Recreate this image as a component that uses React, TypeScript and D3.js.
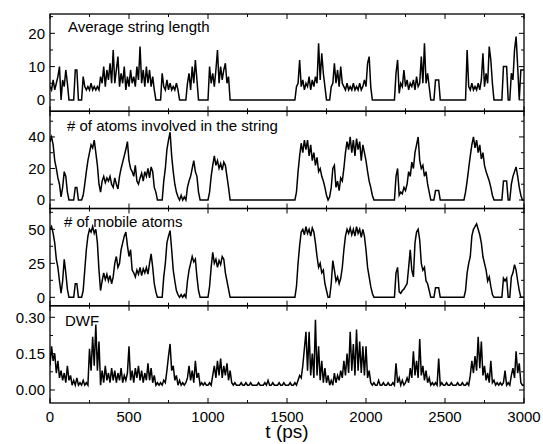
import React from 'react';
import * as d3 from 'd3';

// sampling times (ps)
const tStep = 10;
const times = d3.range(0, 3000 + tStep, tStep);

const xMajorTicks = [0, 500, 1000, 1500, 2000, 2500, 3000];
const xMinorTicks = [250, 750, 1250, 1750, 2250, 2750];

// Average string length (one row = 100 ps)
const avgStringLength = [
  4, 3, 6, 3, 5, 7, 10, 0, 6, 4,
  9, 5, 0, 0, 0, 0, 9, 9, 0, 0,
  0, 7, 4, 3, 4, 3, 5, 3, 4, 3,
  4, 3, 7, 5, 10, 4, 9, 6, 11, 5,
  15, 5, 9, 13, 4, 8, 5, 10, 3, 7,
  4, 9, 5, 7, 4, 10, 6, 16, 5, 9,
  4, 10, 5, 9, 4, 7, 3, 0, 0, 0,
  0, 8, 4, 3, 6, 3, 5, 3, 4, 3,
  5, 3, 0, 0, 0, 0, 0, 5, 8, 3,
  10, 5, 12, 6, 0, 0, 0, 0, 0, 0,
  0, 10, 5, 8, 4, 9, 15, 5, 10, 6,
  9, 11, 5, 7, 0, 0, 0, 0, 0, 0,
  0, 0, 0, 0, 0, 0, 0, 0, 0, 0,
  0, 0, 0, 0, 0, 0, 0, 0, 0, 0,
  0, 0, 0, 0, 0, 0, 0, 0, 0, 0,
  0, 0, 0, 0, 0, 0, 4, 5, 12, 4,
  6, 3, 5, 4, 7, 3, 6, 4, 7, 5,
  17, 6, 14, 8, 4, 0, 0, 0, 4, 5,
  11, 5, 9, 4, 10, 5, 4, 3, 5, 3,
  4, 3, 5, 3, 4, 3, 5, 3, 4, 6,
  4, 11, 13, 4, 0, 0, 0, 0, 0, 0,
  0, 0, 0, 0, 0, 0, 0, 0, 0, 8,
  12, 2, 5, 4, 9, 4, 6, 3, 5, 4,
  6, 3, 7, 4, 5, 13, 5, 17, 5, 8,
  4, 0, 0, 0, 6, 6, 6, 0, 0, 0,
  0, 0, 0, 0, 0, 0, 0, 0, 0, 0,
  0, 0, 0, 0, 15, 4, 3, 5, 3, 4,
  3, 5, 3, 6, 14, 4, 8, 5, 16, 12,
  5, 0, 0, 0, 0, 0, 0, 10, 10, 10,
  0, 0, 8, 6, 15, 19, 10, 0, 9, 9,
  9,
];

// # of atoms involved in the string
const atomsInString = [
  37, 40, 35, 25, 20, 14, 10, 2, 8, 18,
  15, 5, 0, 0, 0, 0, 8, 8, 0, 0,
  0, 3, 10, 18, 25, 30, 35, 33, 38, 30,
  22, 10, 5, 12, 15, 11, 14, 12, 15, 10,
  8, 14, 10, 7, 15, 20, 24, 28, 32, 37,
  25, 20, 18, 15, 22, 12, 10, 14, 17, 12,
  18, 15, 20, 14, 21, 18, 8, 5, 0, 0,
  0, 0, 12, 20, 32, 38, 43, 28, 18, 10,
  5, 2, 0, 3, 0, 2, 0, 8, 12, 15,
  20, 25, 18, 15, 5, 0, 0, 0, 0, 0,
  0, 5, 15, 22, 28, 22, 25, 20, 23, 19,
  24, 22, 15, 8, 0, 0, 0, 0, 0, 0,
  0, 0, 0, 0, 0, 0, 0, 0, 0, 0,
  0, 0, 0, 0, 0, 0, 0, 0, 0, 0,
  0, 0, 0, 0, 0, 0, 0, 0, 0, 0,
  0, 0, 0, 0, 0, 0, 5, 18, 28, 36,
  30, 38, 32, 38, 28, 35, 25, 30, 22, 27,
  18, 20, 15, 12, 8, 3, 0, 2, 8, 20,
  22, 8, 12, 6, 14, 12, 20, 30, 37, 32,
  40, 30, 38, 28, 39, 32, 37, 25, 35, 30,
  25, 18, 12, 8, 3, 0, 0, 0, 0, 0,
  0, 0, 0, 0, 0, 0, 0, 0, 0, 15,
  20, 3, 5, 4, 8, 6, 10, 18, 15, 24,
  20, 30, 35, 40, 25, 20, 22, 15, 18, 10,
  5, 0, 0, 0, 6, 6, 6, 0, 0, 0,
  0, 0, 0, 0, 0, 0, 0, 0, 0, 0,
  0, 0, 0, 5, 12, 20, 28, 35, 40, 33,
  38, 30, 35, 26, 30, 22, 18, 15, 12, 8,
  3, 0, 0, 0, 0, 0, 0, 12, 12, 12,
  0, 0, 10, 15, 18, 21, 15, 8, 3, 0,
  0,
];

// # of mobile atoms
const mobileAtoms = [
  50, 52, 47, 40, 28, 22, 12, 3, 12, 28,
  18, 6, 0, 0, 0, 0, 10, 10, 0, 0,
  0, 5, 20, 35, 45, 50, 48, 52, 47, 50,
  40, 20, 5, 12, 18, 13, 17, 12, 16, 10,
  15, 25, 30, 22, 25, 35, 40, 45, 48, 38,
  30, 35, 20, 18, 15, 20, 17, 22, 16, 21,
  18, 22, 17, 25, 32, 22, 10, 4, 0, 0,
  0, 0, 15, 25, 40, 45, 49, 35, 20, 12,
  5, 2, 0, 2, 0, 2, 0, 12, 20, 25,
  30, 26, 28, 15, 5, 0, 0, 0, 0, 0,
  0, 8, 22, 33, 25, 28, 22, 27, 24, 30,
  28, 18, 12, 6, 0, 0, 0, 0, 0, 0,
  0, 0, 0, 0, 0, 0, 0, 0, 0, 0,
  0, 0, 0, 0, 0, 0, 0, 0, 0, 0,
  0, 0, 0, 0, 0, 0, 0, 0, 0, 0,
  0, 0, 0, 0, 0, 0, 8, 25, 38, 48,
  50, 46, 52, 47, 50, 45, 51, 48, 40, 30,
  22, 25, 18, 20, 10, 5, 0, 0, 10, 27,
  20, 12, 15, 10, 14, 22, 35, 45, 50, 47,
  51, 46, 50, 45, 52, 47, 50, 44, 50, 45,
  35, 22, 15, 8, 3, 0, 0, 0, 0, 0,
  0, 0, 0, 0, 0, 0, 0, 0, 0, 18,
  22, 4, 3, 5, 6, 8, 10, 22, 35, 20,
  15, 40, 48, 50, 42, 25, 20, 22, 12, 10,
  5, 0, 0, 0, 7, 7, 7, 0, 0, 0,
  0, 0, 0, 0, 0, 0, 0, 0, 0, 0,
  0, 0, 0, 5, 18, 25, 30, 45, 50, 52,
  54, 50, 46, 40, 30, 25, 20, 12, 15, 8,
  2, 0, 0, 0, 0, 0, 0, 14, 12, 14,
  0, 0, 15, 18, 24, 20, 12, 5, 0, 0,
  0,
];

// DWF
const dwf = [
  0.10, 0.18, 0.12, 0.15, 0.07, 0.12, 0.05, 0.08, 0.04, 0.07,
  0.03, 0.10, 0.04, 0.06, 0.02, 0.04, 0.02, 0.05, 0.02, 0.03,
  0.02, 0.04, 0.02, 0.03, 0.02, 0.17, 0.08, 0.22, 0.10, 0.27,
  0.08, 0.20, 0.02, 0.08, 0.03, 0.10, 0.04, 0.07, 0.03, 0.09,
  0.04, 0.08, 0.03, 0.07, 0.04, 0.09, 0.03, 0.06, 0.04, 0.07,
  0.18, 0.04, 0.08, 0.03, 0.09, 0.05, 0.10, 0.04, 0.08, 0.03,
  0.07, 0.04, 0.11, 0.04, 0.09, 0.03, 0.06, 0.02, 0.03, 0.02,
  0.03, 0.02, 0.04, 0.03, 0.08, 0.14, 0.19, 0.08, 0.10, 0.04,
  0.06, 0.02, 0.04, 0.02, 0.03, 0.02, 0.03, 0.05, 0.10, 0.04,
  0.08, 0.03, 0.12, 0.05, 0.07, 0.02, 0.03, 0.02, 0.03, 0.02,
  0.02, 0.03, 0.02, 0.06, 0.10, 0.05, 0.12, 0.06, 0.13, 0.05,
  0.10, 0.06, 0.11, 0.04, 0.08, 0.03, 0.02, 0.03, 0.02, 0.02,
  0.02, 0.03, 0.02, 0.02, 0.03, 0.02, 0.02, 0.03, 0.02, 0.02,
  0.02, 0.02, 0.03, 0.02, 0.02, 0.02, 0.03, 0.02, 0.04, 0.02,
  0.02, 0.03, 0.02, 0.02, 0.02, 0.03, 0.02, 0.02, 0.03, 0.02,
  0.02, 0.02, 0.03, 0.02, 0.02, 0.03, 0.02, 0.04, 0.06, 0.05,
  0.10, 0.17, 0.24, 0.08, 0.24, 0.06, 0.15, 0.05, 0.29, 0.06,
  0.18, 0.04, 0.12, 0.03, 0.09, 0.03, 0.06, 0.02, 0.04, 0.02,
  0.07, 0.03, 0.06, 0.04, 0.08, 0.05, 0.12, 0.06, 0.15, 0.07,
  0.24, 0.08, 0.19, 0.06, 0.25, 0.08, 0.20, 0.07, 0.18, 0.06,
  0.18, 0.05, 0.08, 0.03, 0.02, 0.03, 0.02, 0.02, 0.04, 0.02,
  0.02, 0.03, 0.02, 0.02, 0.03, 0.02, 0.02, 0.03, 0.02, 0.11,
  0.03, 0.05, 0.02, 0.04, 0.02, 0.03, 0.05, 0.03, 0.09, 0.05,
  0.16, 0.06, 0.12, 0.05, 0.21, 0.06, 0.10, 0.04, 0.08, 0.03,
  0.05, 0.02, 0.03, 0.02, 0.03, 0.02, 0.13, 0.02, 0.03, 0.02,
  0.02, 0.03, 0.02, 0.02, 0.03, 0.02, 0.02, 0.02, 0.03, 0.02,
  0.02, 0.03, 0.02, 0.02, 0.03, 0.02, 0.06, 0.12, 0.07, 0.14,
  0.08, 0.22, 0.09, 0.20, 0.06, 0.10, 0.04, 0.07, 0.03, 0.12,
  0.03, 0.04, 0.02, 0.03, 0.02, 0.03, 0.02, 0.03, 0.08, 0.02,
  0.03, 0.02, 0.06, 0.09, 0.05, 0.16, 0.07, 0.11, 0.03, 0.02,
  0.02,
];

const panelTitles = [
  'Average string length',
  '# of atoms involved in the string',
  '# of mobile atoms',
  'DWF',
];
const panelSeries = [avgStringLength, atomsInString, mobileAtoms, dwf];
const panelDomains: [number, number][] = [
  [-3.4, 25.8],
  [-5.4, 56.3],
  [-6.2, 65.3],
  [-0.0537, 0.3477],
];
const panelMajorTicks = [
  [0, 10, 20],
  [0, 20, 40],
  [0, 25, 50],
  [0, 0.15, 0.3],
];
const panelMinorTicks = [
  [5, 15, 25],
  [10, 30, 50],
  [12.5, 37.5, 62.5],
  [0.075, 0.225],
];
const panelTickFormats = [
  (d: number) => String(d),
  (d: number) => String(d),
  (d: number) => String(d),
  (d: number) => d.toFixed(2),
];
const titleOffsets = [
  { dx: 18, dy: 17.5 },
  { dx: 17, dy: 19.5 },
  { dx: 14, dy: 18 },
  { dx: 15, dy: 20 },
];

const W = 543;
const H = 444;
const left = 50;
const right = 524;
const top = 14;
const bottom = 403;
const nPanels = 4;
const panelH = (bottom - top) / nPanels;
const FONT = '"Liberation Sans", Arial, Helvetica, sans-serif';

export default function App() {
  const x = d3.scaleLinear().domain([0, 3000]).range([left, right]);
  const majorLen = 5;
  const minorLen = 3;

  return (
    <svg
      width={W}
      height={H}
      style={{ position: 'absolute', left: 0, top: 0, background: '#fff' }}
      fontFamily={FONT}
    >
      <rect x={0} y={0} width={W} height={H} fill="#fff" />
      <defs>
        {panelSeries.map((_, i) => (
          <clipPath id={`clip${i}`} key={i}>
            <rect x={left} y={top + i * panelH} width={right - left} height={panelH} />
          </clipPath>
        ))}
      </defs>
      {panelSeries.map((vals, i) => {
        const y0 = top + i * panelH;
        const y1 = y0 + panelH;
        const y = d3.scaleLinear().domain(panelDomains[i]).range([y1, y0]);
        const line = d3
          .line<number>()
          .x((_, k) => x(times[k]))
          .y((v) => y(v));
        const fmt = panelTickFormats[i];
        return (
          <g key={i}>
            <path
              d={line(vals) || ''}
              fill="none"
              stroke="#000"
              strokeWidth={1.5}
              strokeLinejoin="miter"
              clipPath={`url(#clip${i})`}
            />
            <rect x={left} y={y0} width={right - left} height={panelH} fill="none" stroke="#000" strokeWidth={1.3} />
            {xMajorTicks.map((t) => (
              <g key={`xM${t}`}>
                <line x1={x(t)} x2={x(t)} y1={y0} y2={y0 + majorLen} stroke="#000" strokeWidth={1} />
                <line x1={x(t)} x2={x(t)} y1={y1} y2={y1 - majorLen} stroke="#000" strokeWidth={1} />
              </g>
            ))}
            {xMinorTicks.map((t) => (
              <g key={`xm${t}`}>
                <line x1={x(t)} x2={x(t)} y1={y0} y2={y0 + minorLen} stroke="#000" strokeWidth={1} />
                <line x1={x(t)} x2={x(t)} y1={y1} y2={y1 - minorLen} stroke="#000" strokeWidth={1} />
              </g>
            ))}
            {panelMajorTicks[i].map((v) => (
              <g key={`yM${v}`}>
                <line x1={left} x2={left + majorLen} y1={y(v)} y2={y(v)} stroke="#000" strokeWidth={1} />
                <line x1={right} x2={right - majorLen} y1={y(v)} y2={y(v)} stroke="#000" strokeWidth={1} />
                <text x={left - 5} y={y(v)} dy="0.36em" textAnchor="end" fontSize={15} fill="#000">
                  {fmt(v)}
                </text>
              </g>
            ))}
            {panelMinorTicks[i]
              .filter((v) => v > panelDomains[i][0] && v < panelDomains[i][1])
              .map((v) => (
                <g key={`ym${v}`}>
                  <line x1={left} x2={left + minorLen} y1={y(v)} y2={y(v)} stroke="#000" strokeWidth={1} />
                  <line x1={right} x2={right - minorLen} y1={y(v)} y2={y(v)} stroke="#000" strokeWidth={1} />
                </g>
              ))}
            <text
              x={left + titleOffsets[i].dx}
              y={y0 + titleOffsets[i].dy}
              fontSize={15}
              fill="#000"
            >
              {panelTitles[i]}
            </text>
          </g>
        );
      })}
      {xMajorTicks.map((t) => (
        <text key={`xl${t}`} x={x(t)} y={bottom + 18.5} textAnchor="middle" fontSize={15} fill="#000">
          {t}
        </text>
      ))}
      <text x={(left + right) / 2} y={437.5} textAnchor="middle" fontSize={19} fill="#000">
        t (ps)
      </text>
    </svg>
  );
}
